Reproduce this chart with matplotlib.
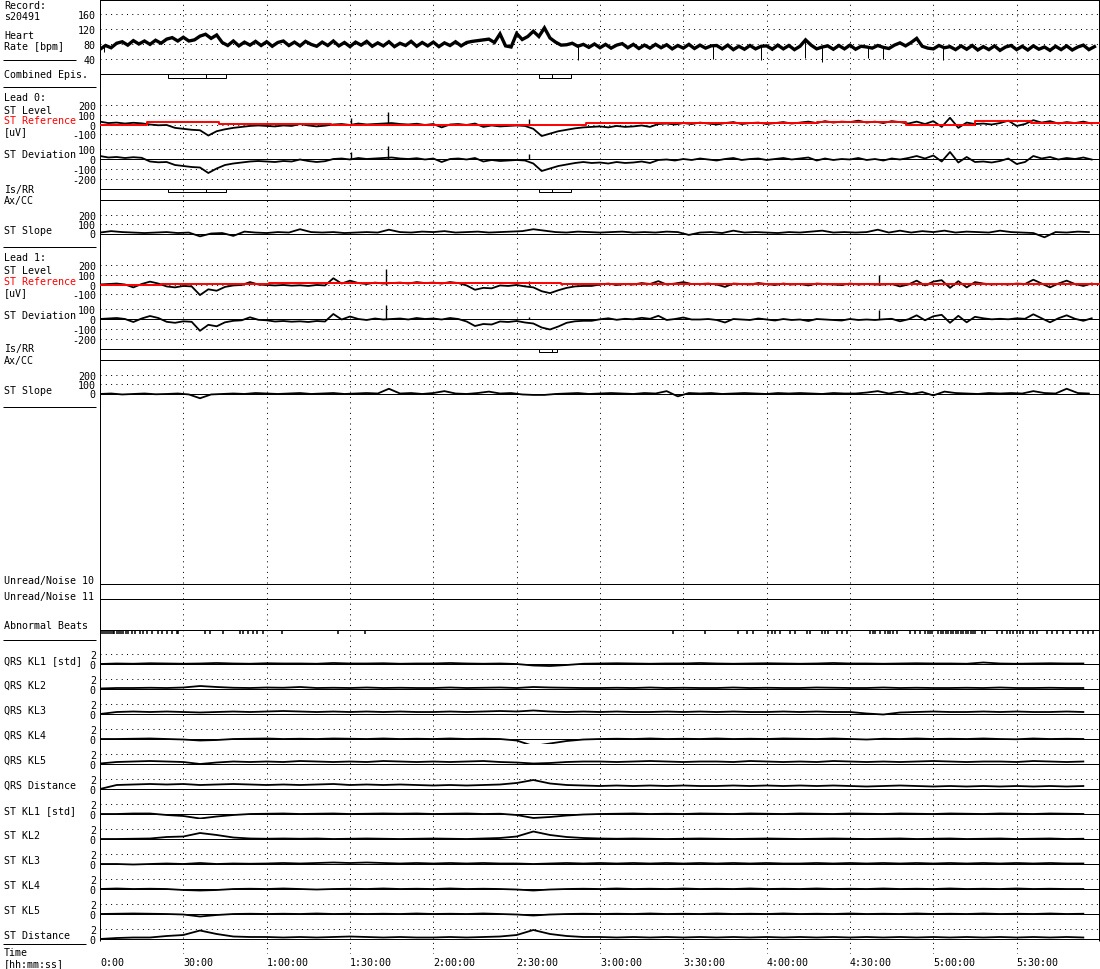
import numpy as np
import matplotlib
matplotlib.use("Agg")
import matplotlib.pyplot as plt
from matplotlib.patches import Rectangle

# record s20491, trend plot of a 6 h holter record

record = "s20491"

# heart rate [bpm], one value every 2 min
hr = [66, 76, 70, 82, 86, 77, 89, 80, 88, 79,
      90, 82, 93, 97, 88, 98, 88, 91, 101, 106,
      95, 104, 84, 76, 88, 75, 85, 77, 87, 76,
      86, 74, 84, 88, 76, 85, 75, 87, 79, 74,
      85, 76, 88, 75, 84, 73, 85, 77, 87, 74,
      83, 75, 86, 73, 82, 76, 87, 74, 84, 75,
      85, 73, 83, 76, 86, 75, 84, 87, 89, 91,
      93, 84, 107, 75, 72, 108, 92, 100, 114, 100,
      123, 96, 85, 77, 78, 82, 74, 79, 71, 80,
      70, 79, 69, 77, 81, 70, 79, 68, 77, 69,
      79, 70, 78, 67, 76, 69, 79, 68, 77, 69,
      75, 76, 67, 77, 65, 74, 66, 76, 67, 74,
      75, 66, 77, 67, 76, 65, 74, 91, 77, 67,
      72, 75, 66, 76, 67, 77, 66, 74, 72, 69,
      76, 71, 68, 77, 83, 75, 84, 95, 74, 69,
      67, 76, 70, 73, 65, 75, 66, 76, 64, 73,
      65, 75, 63, 72, 76, 65, 74, 64, 75, 66,
      72, 63, 74, 65, 75, 64, 72, 77, 65, 73]
# single-beat drops of the heart rate (minute, bpm)
hr_spike_t = [1.5, 172, 220.7, 238, 253.8, 260, 276.5, 282, 303.5]
hr_spike_v = [58, 37, 40, 38, 44, 31, 42, 40, 38]

# ST level [uV], one value every 3 min
lead0_level = [30, 15, 20, 10, 18, 12, 0, -8, -5, -35,
               -45, -55, -60, -115, -70, -50, -35, -25, -15, -10,
               -15, -20, -10, -15, 5, -10, -20, -12, 0, 5,
               -5, 10, 0, 5, 10, 15, 5, 0, 8, -5,
               5, -30, 0, 5, -5, 10, -25, -10, -20, -15,
               -10, -15, -45, -120, -95, -70, -55, -40, -30, -25,
               -20, -30, -15, -25, -20, -10, -25, 5, 10, 0,
               15, 5, 20, 10, 0, 15, 25, 5, 15, 20,
               5, 15, 25, 10, 20, 30, 15, 35, 20, 30,
               25, 40, 20, 30, 15, 35, 25, 10, 30, 5,
               35, -25, 70, -35, 20, 5, 10, 0, 15, 40,
               -15, 5, 45, 20, 35, 10, 25, 15, 30, 10]
lead1_level = [0, 5, 10, 0, -30, 5, 30, 10, -20, -30,
               -15, -20, -110, -50, -65, -25, -10, -5, 25, 0,
               -5, -10, -5, -12, -8, -15, -5, -10, 65, 10,
               40, 15, 5, 20, 10, 15, 20, 10, 25, 15,
               20, 10, 25, 15, -10, -55, -35, -40, -10, -15,
               -5, -20, -30, -70, -90, -60, -35, -20, -15, -15,
               0, 10, -5, 5, 0, 15, 5, 35, 0, 10,
               25, 5, 5, 10, 0, -25, 10, 5, 0, 15,
               5, -5, 10, 0, 5, -10, 10, 5, 0, -5,
               10, 0, 5, 0, 0, 5, -20, 0, 40, -10,
               30, 45, -35, 35, -30, 25, 10, 0, 5, 0,
               10, 5, 50, 10, -30, 10, 40, 5, -15, 10]

# ST reference [uV], step changes (minute, value)
lead0_ref_t = [0, 17, 43, 83, 175, 258, 290, 315, 335, 360]
lead0_ref_v = [0, 25, 10, 0, 15, 30, 0, 35, 15, 15]
lead1_ref_t = [0, 22, 61, 166, 204, 281, 360]
lead1_ref_v = [0, 8, 15, 3, 10, 3, 3]

# single beat spikes of the ST level (minute, uV)
lead0_spike_t = [90.4, 103.7, 154.4]
lead0_spike_v = [70, 130, 55]
lead1_spike_t = [103.0, 154.4, 280.4]
lead1_spike_v = [160, 40, 100]

# ST slope, one value every 4 min
lead0_slope = [10, 25, 15, 10, 5, 10, 15, 5, 10, -30,
               0, 5, -25, 20, 10, 5, 15, 10, 45, 15,
               10, 15, 5, 10, 15, 10, 40, 15, 10, 20,
               15, 25, 10, 15, 20, 10, 15, 20, 25, 45,
               30, 15, 10, 20, 15, 10, 15, 20, 10, 15,
               10, 20, 15, -15, 10, 15, 5, 30, 10, 15,
               10, 5, 15, 10, 20, 30, 10, 15, 10, 15,
               40, 10, 30, 10, 25, 15, 30, 10, 20, 15,
               10, 30, 15, 10, 5, -40, 15, 10, 20, 15]
lead1_slope = [-5, 0, -10, -5, 0, -8, -5, 0, -10, -50,
               -10, -5, 0, -5, 5, 0, -5, 0, 5, -5,
               0, 5, -5, 0, 5, 0, 50, 0, 5, -5,
               5, 25, 0, -5, 5, 20, 0, 5, -10, -15,
               -15, -5, 0, 5, -5, 0, 5, 0, -5, 5,
               0, 25, -30, 5, 0, 5, -5, 0, 5, 0,
               -5, 5, 0, 5, 0, -5, 5, 0, 0, 10,
               25, 0, 20, -5, 15, -20, 20, 5, 0, -5,
               5, 0, 5, 0, 25, 5, 0, 50, 5, 0]

# ischemic episodes (start, extremum, end) in minutes
combined_epis = [(24.6, 38.0, 45.2), (158.2, 162.6, 169.4)]
lead0_epis = [(24.6, 38.0, 45.2), (158.2, 162.6, 169.4)]
lead1_epis = [(158.2, 162.6, 164.6)]

# abnormal beats, minutes
abnormal_beats = [0.3, 1.0, 1.7, 2.4, 3.1, 3.8, 4.5, 5.2, 6.0, 6.8, 7.4, 8.3, 9.2, 9.9,
                  11.5, 12.6, 14.4, 15.5, 16.9, 18.7, 20.9, 22.3, 24.1, 25.9, 27.7, 28.1,
                  37.8, 39.6, 44.3, 50.4, 51.5, 53.3, 55.1, 56.5, 58.7, 65.5, 85.7, 95.4,
                  206.3, 217.8, 229.7, 232.9, 235.1, 240.5, 241.9, 243.0, 244.8, 248.4,
                  250.2, 254.5, 255.6, 259.9, 261.0, 262.1, 265.3, 267.1, 268.9, 277.2,
                  278.3, 279.0, 280.8, 282.6, 283.7, 284.4, 285.5, 286.9, 291.6, 293.4,
                  295.2, 297.0, 298.1, 298.8, 299.5, 301.7, 302.6, 303.5, 304.4, 305.3,
                  306.2, 307.1, 308.0, 308.9, 309.8, 310.7, 311.6, 312.5, 313.4, 314.3,
                  315.0, 317.5, 318.6, 322.9, 324.7, 326.5, 327.6, 328.7, 330.1, 331.2,
                  332.3, 334.8, 335.9, 337.3, 340.9, 342.7, 344.5, 346.7, 349.2, 351.7,
                  353.9, 355.7, 357.5]

# Karhunen-Loeve coefficients [std], one value every 6 min
kl_names = ["QRS KL1 [std]", "QRS KL2", "QRS KL3", "QRS KL4", "QRS KL5", "QRS Distance",
            "ST KL1 [std]", "ST KL2", "ST KL3", "ST KL4", "ST KL5", "ST Distance"]
qrs_kl1 = [0.0, 0.1, 0.05, 0.15, 0.1, 0.05, 0.1, 0.2, 0.1, 0.05, 0.15, 0.1, 0.1, 0.05, 0.2,
           0.1, 0.1, 0.15, 0.05, 0.1, 0.1, 0.2, 0.1, 0.05, 0.1, 0.0, -0.3, -0.4, -0.2, 0.05,
           0.1, 0.15, 0.1, 0.05, 0.1, 0.1, 0.2, 0.1, 0.05, 0.1, 0.15, 0.1, 0.05, 0.1, 0.2,
           0.1, 0.1, 0.05, 0.1, 0.15, 0.1, 0.1, 0.05, 0.3, 0.1, 0.05, 0.1, 0.15, 0.1, 0.1]
qrs_kl2 = [0.1, 0.2, 0.2, 0.25, 0.2, 0.3, 0.6, 0.4, 0.25, 0.2, 0.3, 0.25, 0.4, 0.2, 0.25,
           0.2, 0.3, 0.2, 0.25, 0.2, 0.2, 0.3, 0.2, 0.25, 0.3, 0.2, 0.4, 0.3, 0.25, 0.2,
           0.2, 0.25, 0.2, 0.3, 0.2, 0.25, 0.2, 0.2, 0.3, 0.2, 0.25, 0.2, 0.2, 0.3, 0.25,
           0.2, 0.2, 0.3, 0.2, 0.25, 0.2, 0.2, 0.25, 0.2, 0.3, 0.2, 0.2, 0.25, 0.2, 0.2]
qrs_kl3 = [0.0, 0.4, 0.5, 0.4, 0.5, 0.4, 0.3, 0.4, 0.5, 0.4, 0.5, 0.6, 0.5, 0.4, 0.5,
           0.4, 0.5, 0.4, 0.5, 0.4, 0.4, 0.5, 0.4, 0.5, 0.6, 0.5, 0.7, 0.5, 0.4, 0.5,
           0.4, 0.5, 0.4, 0.4, 0.5, 0.4, 0.5, 0.4, 0.5, 0.4, 0.4, 0.5, 0.4, 0.5, 0.4,
           0.4, 0.1, -0.1, 0.3, 0.4, 0.5, 0.4, 0.4, 0.5, 0.4, 0.5, 0.4, 0.4, 0.5, 0.4]
qrs_kl4 = [0.0, 0.0, 0.05, 0.1, 0.0, -0.1, -0.3, -0.2, 0.0, 0.05, 0.1, 0.0, 0.05, 0.0, 0.1,
           0.05, 0.0, 0.1, 0.0, 0.05, 0.0, 0.1, 0.0, 0.05, 0.0, -0.3, -1.4, -0.9, -0.4, -0.1,
           0.0, 0.05, 0.0, 0.1, 0.0, 0.05, 0.0, 0.1, 0.0, 0.05, 0.0, 0.1, 0.05, 0.0, 0.1,
           0.0, -0.1, 0.05, 0.0, 0.1, 0.0, 0.05, 0.0, 0.1, 0.0, -0.05, 0.1, 0.0, 0.05, 0.0]
qrs_kl5 = [0.1, 0.4, 0.5, 0.6, 0.5, 0.4, 0.0, 0.3, 0.5, 0.4, 0.5, 0.4, 0.6, 0.5, 0.4,
           0.5, 0.4, 0.6, 0.5, 0.4, 0.5, 0.4, 0.5, 0.6, 0.4, 0.3, 0.1, 0.2, 0.4, 0.5,
           0.5, 0.4, 0.5, 0.6, 0.5, 0.4, 0.5, 0.5, 0.4, 0.6, 0.5, 0.4, 0.5, 0.4, 0.6,
           0.5, 0.4, 0.5, 0.4, 0.5, 0.6, 0.5, 0.4, 0.5, 0.5, 0.4, 0.6, 0.5, 0.4, 0.5]
qrs_dist = [0.0, 0.8, 0.9, 1.0, 0.9, 1.0, 0.8, 0.9, 1.0, 0.9, 0.8, 0.9, 0.8, 0.9, 1.0,
            0.8, 0.9, 0.8, 0.9, 0.8, 0.7, 0.8, 0.7, 0.8, 0.9, 1.2, 1.8, 1.1, 0.8, 0.7,
            0.6, 0.7, 0.6, 0.7, 0.6, 0.7, 0.6, 0.6, 0.7, 0.6, 0.7, 0.6, 0.7, 0.6, 0.7,
            0.6, 0.5, 0.6, 0.7, 0.6, 0.5, 0.6, 0.5, 0.6, 0.5, 0.6, 0.5, 0.6, 0.5, 0.6]
st_kl1 = [0.0, 0.0, 0.1, 0.1, -0.2, -0.4, -0.9, -0.5, -0.2, 0.0, 0.05, 0.1, 0.0, 0.05, 0.1,
          0.0, 0.05, 0.1, 0.05, 0.1, 0.0, 0.05, 0.1, 0.0, 0.05, -0.2, -0.8, -0.6, -0.3, -0.1,
          0.0, 0.05, 0.1, 0.0, 0.05, 0.0, 0.1, 0.05, 0.0, 0.1, 0.05, 0.0, 0.1, 0.05, 0.0,
          0.1, 0.05, 0.0, 0.1, 0.05, 0.0, 0.1, 0.05, 0.0, 0.1, 0.05, 0.0, 0.1, 0.05, 0.0]
st_kl2 = [0.0, 0.0, 0.05, 0.1, 0.4, 0.5, 1.2, 0.8, 0.3, 0.1, 0.05, 0.1, 0.05, 0.1, 0.0,
          0.05, 0.1, 0.05, 0.0, 0.05, 0.1, 0.05, 0.0, 0.1, 0.2, 0.5, 1.5, 0.8, 0.4, 0.2,
          0.1, 0.05, 0.1, 0.05, 0.0, 0.05, 0.1, 0.05, 0.0, 0.05, 0.1, 0.05, 0.0, 0.05, 0.1,
          0.05, 0.0, 0.05, 0.1, 0.0, 0.05, 0.1, 0.0, 0.05, 0.1, 0.0, 0.05, 0.1, 0.0, 0.05]
st_kl3 = [0.0, 0.0, -0.1, 0.0, 0.1, 0.0, 0.2, 0.0, 0.1, 0.05, 0.1, 0.2, 0.1, 0.2, 0.3,
          0.2, 0.3, 0.2, 0.1, 0.2, 0.1, 0.2, 0.1, 0.2, 0.1, 0.1, 0.0, 0.1, 0.2, 0.1,
          0.2, 0.1, 0.2, 0.1, 0.2, 0.1, 0.2, 0.1, 0.2, 0.1, 0.2, 0.1, 0.1, 0.2, 0.1,
          0.2, 0.1, 0.2, 0.1, 0.2, 0.1, 0.2, 0.1, 0.2, 0.1, 0.2, 0.1, 0.2, 0.1, 0.1]
st_kl4 = [0.0, 0.1, 0.0, 0.05, 0.0, -0.2, -0.3, -0.2, 0.0, 0.05, 0.0, 0.1, 0.0, -0.1, 0.0,
          0.05, 0.0, 0.1, 0.0, 0.05, 0.0, 0.1, 0.0, 0.05, 0.0, -0.1, -0.3, -0.1, 0.0, 0.05,
          0.0, 0.1, 0.0, 0.05, 0.0, 0.1, 0.0, 0.05, 0.0, 0.1, 0.0, 0.05, 0.0, 0.1, 0.0,
          0.05, 0.0, 0.1, 0.0, 0.05, 0.0, 0.1, 0.0, 0.05, 0.0, 0.1, 0.0, 0.05, 0.0, 0.0]
st_kl5 = [0.0, 0.05, 0.1, 0.05, 0.0, -0.1, -0.5, -0.2, 0.0, 0.05, 0.0, 0.05, 0.0, 0.1, 0.0,
          0.05, 0.0, 0.05, 0.0, 0.1, 0.0, 0.05, 0.0, 0.1, 0.0, -0.1, -0.3, -0.1, 0.0, 0.05,
          0.0, 0.05, 0.0, 0.1, 0.0, 0.05, 0.0, 0.1, 0.0, 0.05, 0.0, 0.1, 0.0, 0.05, 0.0,
          0.1, 0.0, 0.05, 0.0, 0.1, 0.0, 0.05, 0.0, 0.1, 0.0, 0.05, 0.0, 0.1, 0.0, 0.05]
st_dist = [0.0, 0.2, 0.3, 0.3, 0.6, 0.8, 1.7, 1.0, 0.5, 0.4, 0.4, 0.3, 0.4, 0.3, 0.4,
           0.5, 0.4, 0.3, 0.4, 0.3, 0.3, 0.4, 0.3, 0.4, 0.5, 0.8, 1.8, 1.0, 0.6, 0.4,
           0.4, 0.3, 0.4, 0.3, 0.4, 0.3, 0.4, 0.3, 0.4, 0.3, 0.4, 0.3, 0.4, 0.3, 0.4,
           0.3, 0.4, 0.3, 0.4, 0.3, 0.4, 0.3, 0.4, 0.3, 0.4, 0.3, 0.4, 0.3, 0.4, 0.3]
kl_series = [qrs_kl1, qrs_kl2, qrs_kl3, qrs_kl4, qrs_kl5, qrs_dist,
             st_kl1, st_kl2, st_kl3, st_kl4, st_kl5, st_dist]

grid_ticks = [0, 30, 60, 90, 120, 150, 180, 210, 240, 270, 300, 330]
time_labels = ["0:00", "30:00", "1:00:00", "1:30:00", "2:00:00", "2:30:00",
               "3:00:00", "3:30:00", "4:00:00", "4:30:00", "5:00:00", "5:30:00"]

t_hr = np.arange(len(hr)) * 2
t_lvl = np.arange(len(lead0_level)) * 3
t_slope = np.arange(len(lead0_slope)) * 4
t_kl = np.arange(len(qrs_kl1)) * 6

# ---- layout (pixels) ----
W, H = 1100, 970
L, R = 100, 1100
DOT = (0, (1, 4.3))
LW = 0.72
TR = 1.3

plt.rcParams["font.family"] = ["DejaVu Sans Mono"]
plt.rcParams["font.size"] = 7.2

fig = plt.figure(figsize=(11, 9.7), dpi=100)

frame = fig.add_axes([0, 0, 1, 1])
frame.set_xlim(0, W)
frame.set_ylim(H, 0)
frame.axis("off")


def px_axes(top, bottom):
    ax = fig.add_axes([L / W, 1 - bottom / H, (R - L) / W, (bottom - top) / H])
    ax.set_xlim(0, 360)
    ax.patch.set_alpha(0)
    for s in ax.spines.values():
        s.set_visible(False)
    ax.set_xticks([])
    ax.set_yticks([])
    return ax


def panel(top, bottom, zero, ppu, ticks=(), dotted=(), solid=()):
    ax = px_axes(top, bottom)
    ax.set_ylim((zero - bottom) / ppu, (zero - top) / ppu)
    ax.set_yticks(list(ticks))
    ax.set_yticklabels([str(v) for v in ticks])
    ax.tick_params(axis="y", length=0, pad=3)
    for v in dotted:
        ax.axhline(v, color="k", lw=LW, ls=DOT)
    for v in solid:
        ax.axhline(v, color="k", lw=LW)
    return ax


def ref_at(t, rt, rv):
    idx = np.searchsorted(rt, t, side="right") - 1
    return np.asarray(rv, dtype=float)[idx]


def episode_strip(top, eps):
    ax = px_axes(top, top + 3.5)
    ax.set_ylim(1, 0)
    for s, m, e in eps:
        ax.add_patch(Rectangle((s, 0), e - s, 1, fill=False, ec="k", lw=LW, clip_on=False))
        ax.vlines(m, 0, 1, color="k", lw=LW, clip_on=False)


# vertical time grid and time axis
gax = px_axes(0, 955)
gax.set_ylim(0, 1)
for t in grid_ticks[1:]:
    gax.axvline(t, color="k", lw=LW, ls=DOT)
gax.set_xticks(grid_ticks)
gax.set_xticklabels(time_labels, ha="left")
gax.tick_params(axis="x", length=0, pad=2)

# frame lines
frame.hlines([0.5, 75.3, 189.5, 200.5, 349.5, 360.5, 585, 600, 631], L, 1099, color="k", lw=LW)
frame.vlines([L, 1099], 0, 942, color="k", lw=LW)
frame.hlines(60.7, 3, 76, color="k", lw=LW)
frame.hlines([88.3, 248.3, 408.3, 640.7], 3, 96, color="k", lw=LW)
frame.hlines(944.7, 3, 86, color="k", lw=LW)

# heart rate
hx = panel(0, 75, 75, 0.375, [160, 120, 80, 40], dotted=[160, 120, 80, 40])
hx.plot(t_hr, hr, color="k", lw=2.4, solid_joinstyle="miter")
hx.vlines(hr_spike_t, hr_spike_v, np.interp(hr_spike_t, t_hr, hr), color="k", lw=LW)

episode_strip(75.3, combined_epis)


def lead_block(off, level, rt, rv, spk_t, spk_v, slope, eps):
    lv = panel(88 + off, 145 + off, 125.5 + off, 0.096, [200, 100, 0, -100],
               dotted=[200, 100, 0, -100])
    lv.plot(t_lvl, level, color="k", lw=TR)
    lv.vlines(spk_t, 0, spk_v, color="k", lw=1.0)
    lv.step(rt, rv, where="post", color="#ff0000", lw=1.4, zorder=3)

    dev = np.asarray(level, dtype=float) - ref_at(t_lvl, rt, rv)
    dv = panel(145 + off, 189 + off, 160 + off, 0.1, [100, 0, -100, -200],
               dotted=[100, -100, -200], solid=[0])
    dv.plot(t_lvl, dev, color="k", lw=TR)
    dv.vlines(spk_t, 0, np.asarray(spk_v) - ref_at(spk_t, rt, rv), color="k", lw=1.0)

    episode_strip(189.5 + off, eps)

    sl = panel(201 + off, 246 + off, 234.5 + off, 0.095, [200, 100, 0],
               dotted=[200, 100], solid=[0])
    sl.plot(t_slope, slope, color="k", lw=TR)


lead_block(0, lead0_level, lead0_ref_t, lead0_ref_v, lead0_spike_t, lead0_spike_v,
           lead0_slope, lead0_epis)
lead_block(160, lead1_level, lead1_ref_t, lead1_ref_v, lead1_spike_t, lead1_spike_v,
           lead1_slope, lead1_epis)

# abnormal beats
ab = px_axes(631, 635)
ab.set_ylim(1, 0)
ab.vlines(abnormal_beats, 0, 1, color="k", lw=1.1)

# KL coefficient traces
for i, vals in enumerate(kl_series):
    z = 665 + 25 * i
    kx = panel(z - 20, z + 5, z, 5, [2, 0], dotted=[2], solid=[0])
    kx.plot(t_kl, vals, color="k", lw=TR)
    frame.text(4, z - 4, kl_names[i], va="center", ha="left")

# left column labels
labels = [
    (6, "Record:", "k"), (16.5, record, "k"),
    (36, "Heart", "k"), (47, "Rate [bpm]", "k"),
    (75.5, "Combined Epis.", "k"),
    (98, "Lead 0:", "k"), (110.5, "ST Level", "k"), (121.5, "ST Reference", "#ff0000"),
    (132.5, "[uV]", "k"), (155, "ST Deviation", "k"),
    (189.5, "Is/RR", "k"), (201, "Ax/CC", "k"), (231, "ST Slope", "k"),
    (258, "Lead 1:", "k"), (271, "ST Level", "k"), (282, "ST Reference", "#ff0000"),
    (293, "[uV]", "k"), (316, "ST Deviation", "k"),
    (349.5, "Is/RR", "k"), (361, "Ax/CC", "k"), (391, "ST Slope", "k"),
    (581, "Unread/Noise 10", "k"), (597, "Unread/Noise 11", "k"),
    (626, "Abnormal Beats", "k"),
    (953.5, "Time", "k"), (964, "[hh:mm:ss]", "k"),
]
for y, s, c in labels:
    frame.text(4, y, s, va="center", ha="left", color=c)

fig.savefig("out.png", dpi=100)
